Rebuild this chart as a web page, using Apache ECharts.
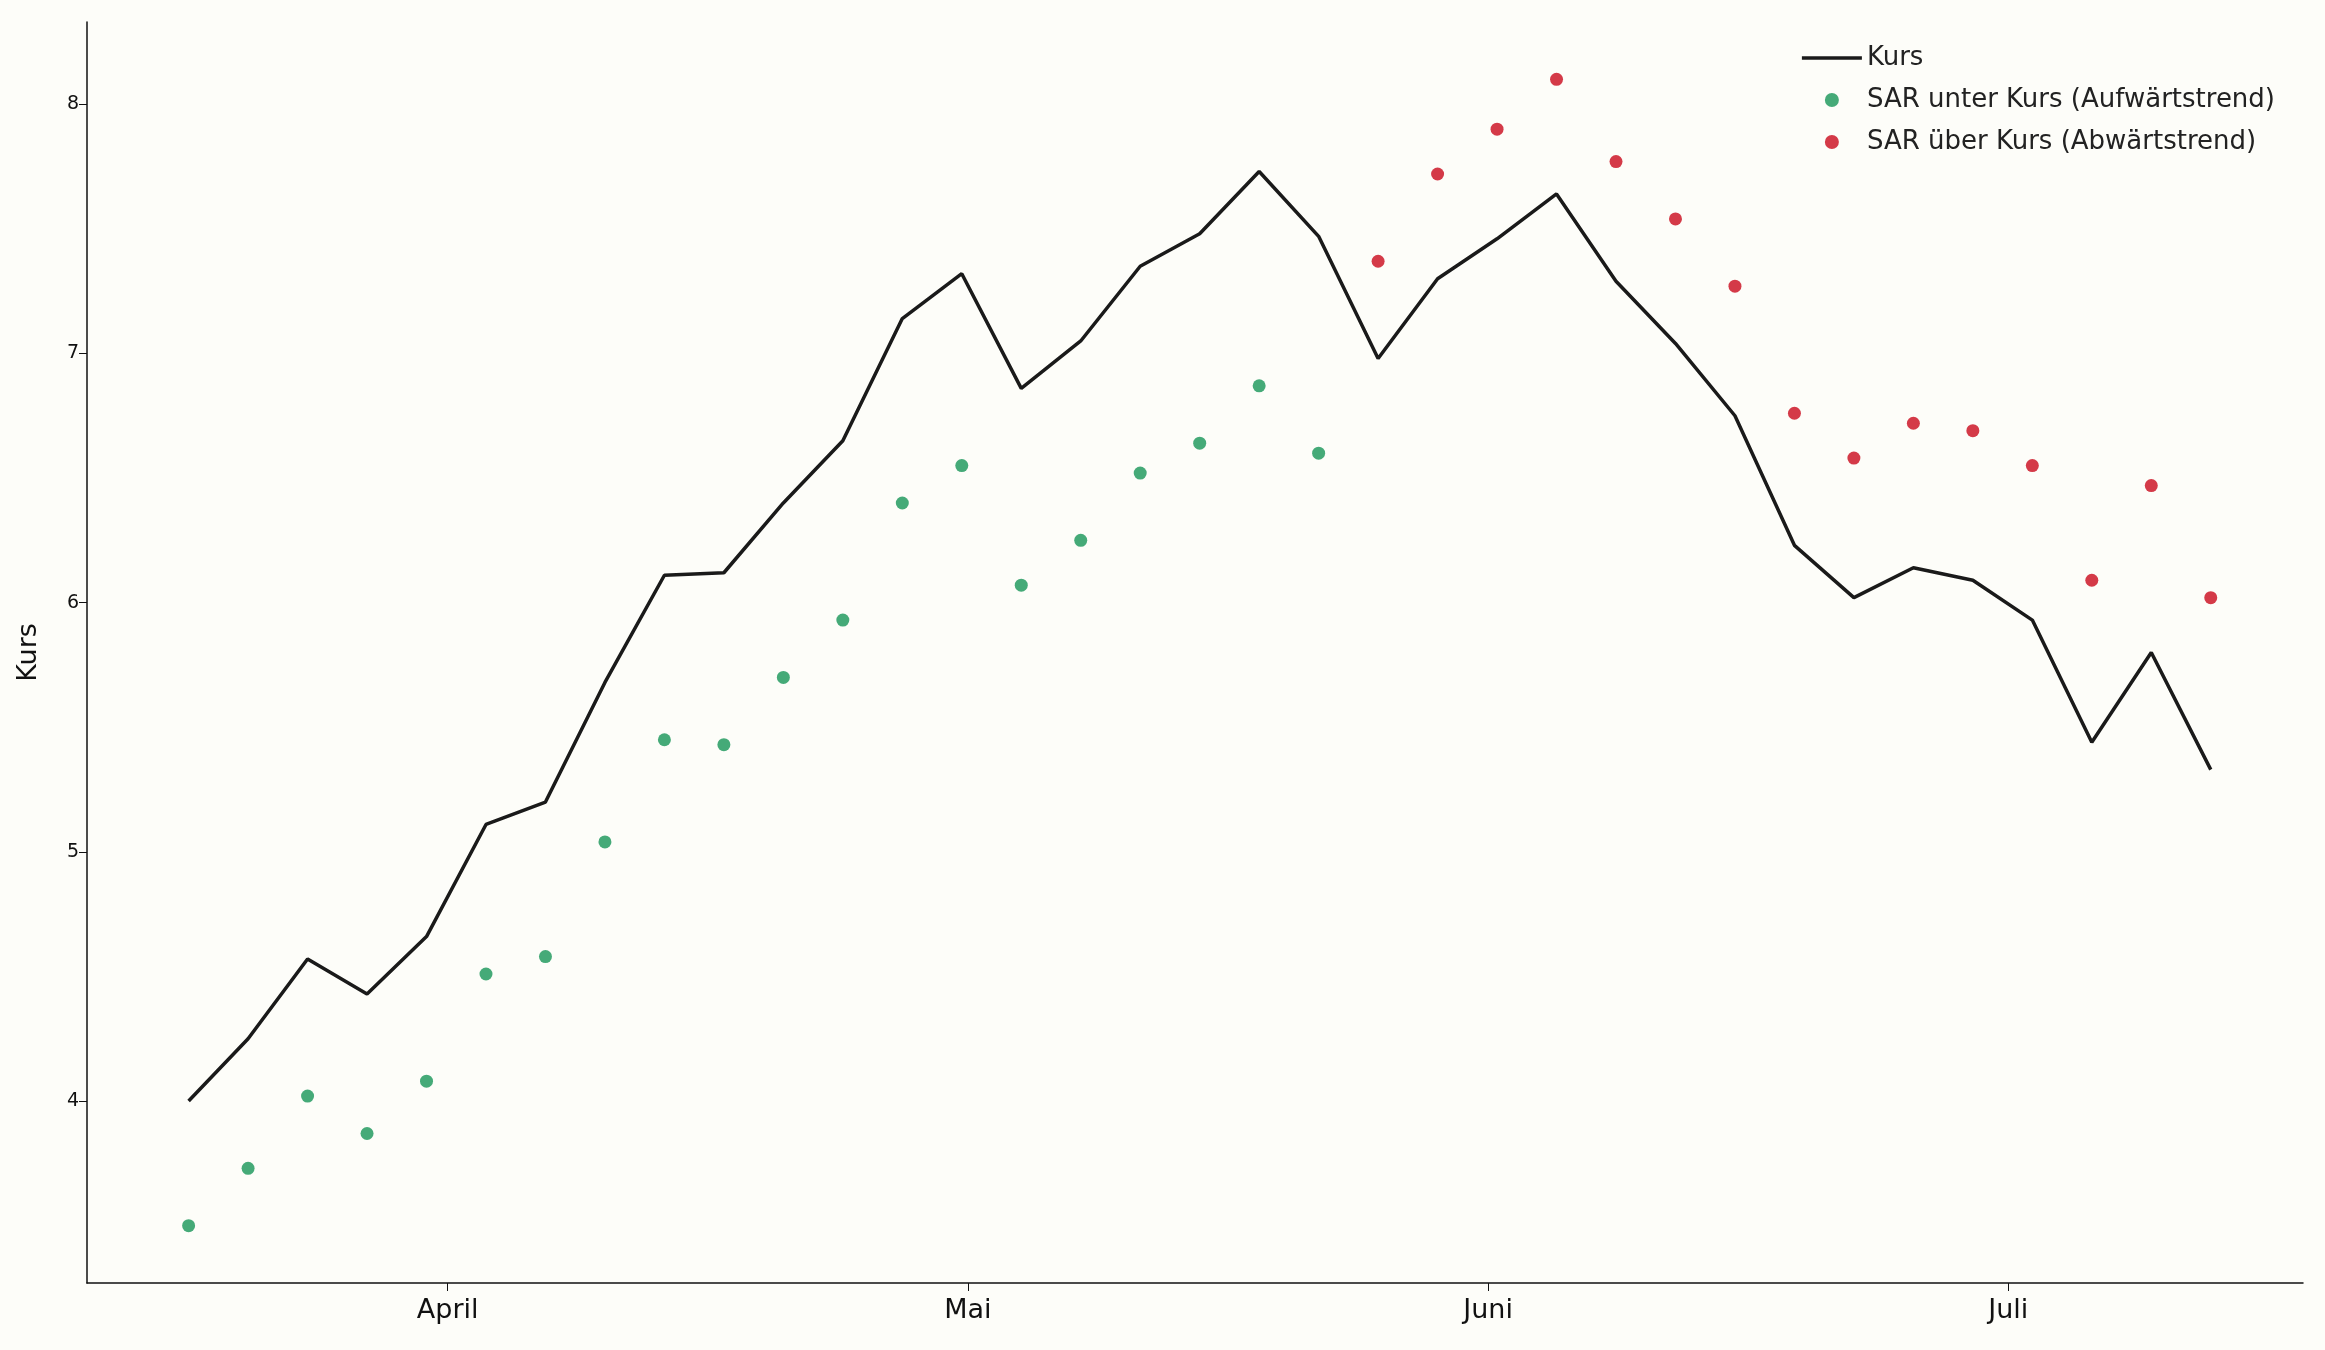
<!DOCTYPE html><html><head><meta charset="utf-8"><script src="https://cdn.jsdelivr.net/npm/echarts@6/dist/echarts.min.js"></script>
<style>html,body{margin:0;background:#fdfdf9}#c{width:2325px;height:1350px}</style></head><body><div id="c"></div><script>
const kurs=[4.00,4.25,4.57,4.43,4.66,5.11,5.20,5.68,6.11,6.12,6.40,6.65,7.14,7.32,6.86,7.05,7.35,7.48,7.73,7.47,6.98,7.30,7.46,7.64,7.29,7.04,6.75,6.23,6.02,6.14,6.09,5.93,5.44,5.80,5.33];
const sarUp=[3.50,3.73,4.02,3.87,4.08,4.51,4.58,5.04,5.45,5.43,5.70,5.93,6.40,6.55,6.07,6.25,6.52,6.64,6.87,6.60];
const sarDown=[7.37,7.72,7.90,8.10,7.77,7.54,7.27,6.76,6.58,6.72,6.69,6.55,6.09,6.47,6.02];
const monthTicks=[0,30,60,90];
const monthLabels=['April','Mai','Juni','Juli'];
const yTicks=[4,5,6,7,8];
const startDay=-14.94, stepDays=3.43;
const days=kurs.map((_,i)=>startDay+i*stepDays);
const ch=echarts.init(document.getElementById('c'));
const ax={onZero:false,lineStyle:{color:'#111',width:1.5}};
ch.setOption({backgroundColor:'#fdfdf9',animation:false,
grid:{left:87,right:22,top:22,bottom:67},
legend:{right:45,top:40,orient:'vertical',itemGap:16,textStyle:{fontSize:26,color:'#222',fontFamily:'DejaVu Sans'},itemWidth:60,itemHeight:14,
 data:[{name:'Kurs',icon:'path://M0,0L10,0L10,0.6L0,0.6Z'},{name:'SAR unter Kurs (Aufwärtstrend)',icon:'circle'},{name:'SAR über Kurs (Abwärtstrend)',icon:'circle'}]},
xAxis:{type:'value',min:-20.8,max:107,axisLine:ax,splitLine:{show:false},
 axisTick:{customValues:monthTicks,length:8,lineStyle:{color:'#111'}},
 axisLabel:{customValues:monthTicks,formatter:v=>monthLabels[monthTicks.indexOf(v)],fontSize:27,color:'#111',margin:14,fontFamily:'DejaVu Sans'}},
yAxis:{type:'value',min:3.27,max:8.33,name:'Kurs',nameLocation:'middle',nameGap:45,nameRotate:90,nameTextStyle:{fontSize:27,color:'#111',fontFamily:'DejaVu Sans'},
 axisLine:{show:true,onZero:false,lineStyle:{color:'#111',width:1.5}},splitLine:{show:false},
 axisTick:{show:true,customValues:yTicks,length:8,lineStyle:{color:'#111'}},
 axisLabel:{customValues:yTicks,fontSize:19,color:'#111',fontFamily:'DejaVu Sans'}},
series:[
{name:'Kurs',type:'line',data:kurs.map((v,i)=>[days[i],v]),showSymbol:false,symbol:'none',lineStyle:{color:'#1a1a1a',width:3.5},itemStyle:{color:'#1a1a1a'}},
{name:'SAR unter Kurs (Aufwärtstrend)',type:'scatter',data:sarUp.map((v,i)=>[days[i],v]),symbolSize:13,itemStyle:{color:'#45aa78',opacity:1}},
{name:'SAR über Kurs (Abwärtstrend)',type:'scatter',data:sarDown.map((v,i)=>[days[i+sarUp.length],v]),symbolSize:13,itemStyle:{color:'#d43a48',opacity:1}}
]});
</script></body></html>
